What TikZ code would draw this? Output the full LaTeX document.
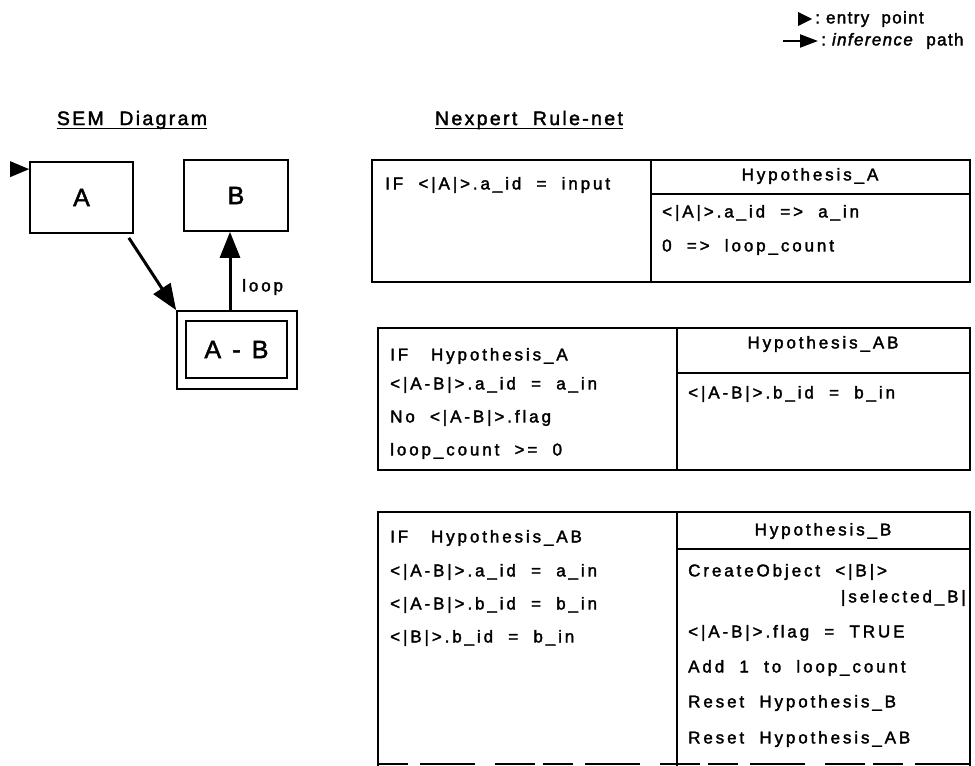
\documentclass[tikz,border=0pt]{standalone}
\usepackage{fontspec}
\setmainfont{Liberation Sans}[LetterSpace=17, FakeBold=2]
\usetikzlibrary{arrows.meta}
\begin{document}
\begin{tikzpicture}[x=1pt,y=-1pt,
  box/.style={draw, line width=1.7pt, inner sep=0pt},
  rule/.style={line width=1.5pt},
  txt/.style={anchor=west, inner sep=0pt, font=\fontsize{17}{19}\selectfont},
  ctr/.style={inner sep=0pt, font=\fontsize{17}{19}\selectfont},
  rtx/.style={anchor=east, inner sep=0pt, font=\fontsize{17}{19}\selectfont},
  lgd/.style={anchor=west, inner sep=0pt, font=\fontsize{17}{19}\selectfont\addfontfeatures{LetterSpace=8}},
  ttl/.style={inner sep=0pt, font=\fontsize{19.5}{21}\selectfont\addfontfeatures{LetterSpace=12}},
  big/.style={font=\fontsize{25}{27}\selectfont},
  infer/.style={line width=3pt, -{Triangle[length=26pt,width=20pt]}},
]
\useasboundingbox (0,0) rectangle (975,766);

% legend
\fill (812,19) -- (798,12) -- (798,26) -- cycle;
\node[lgd] (lg1) at (815,19) {:\ entry\ \ point};
\coordinate (l2a) at (783,41);
\coordinate (l2b) at (818,41);
\draw[line width=2.2pt, -{Triangle[length=18pt,width=13pt]}] (l2a) -- (l2b);
\node[lgd] (lg2) at (821,41) {:\ \textit{inference}\ \ path};

% titles
\node[ttl] (sem) at (132,120) {SEM\ \ Diagram};
\draw[line width=1.5pt] ([yshift=1pt]sem.south west) -- ([yshift=1pt]sem.south east);
\node[ttl] (nex) at (529,120) {Nexpert\ \ Rule-net};
\draw[line width=1.5pt] ([yshift=1pt]nex.south west) -- ([yshift=1pt]nex.south east);

% SEM diagram
\node[box, minimum width=103pt, minimum height=71pt, big] (A) at (81.5,197.5) {A};
\node[box, minimum width=104pt, minimum height=71pt, big] (B) at (236,195.5) {B};
\node[box, minimum width=120pt, minimum height=78pt] (ABo) at (237,350) {};
\node[box, minimum width=101pt, minimum height=57pt, big] (AB) at (236.5,349.5) {A - B};
\fill (A.north west) ++(0,-8pt) -- ++(-19pt,8pt) -- ++(0,-16pt) -- cycle;
\draw[infer] ([xshift=-5pt,yshift=-4pt]A.south east) -- (ABo.north west);
\draw[infer] ([xshift=-7pt]ABo.north) -- ([xshift=-6pt]B.south);
\node[txt] (loop) at (242,287) {loop};

% table 1
\node[box, minimum width=598pt, minimum height=122pt] (t1) at (671,221) {};
\draw[rule] (651,160) -- (651,282);
\draw[rule] (651,194) -- (970,194);
\node[txt] (t1a) at (385,185) {IF\ \ <|A|>.a\_id\ \ =\ \ input};
\node[ctr] (t1h) at (810,176) {Hypothesis\_A};
\node[txt] (t1b) at (662,213) {<|A|>.a\_id\ \ =>\ \ a\_in};
\node[txt] (t1c) at (662,247) {0\ \ =>\ \ loop\_count};

% table 2
\node[box, minimum width=592pt, minimum height=142pt] (t2) at (674,399) {};
\draw[rule] (677,328) -- (677,470);
\draw[rule] (677,373) -- (970,373);
\node[ctr] (t2h) at (823,344) {Hypothesis\_AB};
\node[txt] (t2a) at (390,356) {IF\ \ \ Hypothesis\_A};
\node[txt] (t2b) at (390,385) {<|A-B|>.a\_id\ \ =\ \ a\_in};
\node[txt] (t2c) at (390,418) {No\ \ <|A-B|>.flag};
\node[txt] (t2d) at (390,451) {loop\_count\ \ >=\ \ 0};
\node[txt] (t2e) at (688,394) {<|A-B|>.b\_id\ \ =\ \ b\_in};

% table 3
\draw[rule] (378,766) -- (378,512) -- (970,512) -- (970,766);
\draw[rule] (677,512) -- (677,766);
\draw[rule] (677,549) -- (970,549);
\draw[rule, dash pattern=on 30pt off 12pt on 55pt off 20pt on 40pt off 8pt] (378,764) -- (970,764);
\node[ctr] (t3h) at (823,531) {Hypothesis\_B};
\node[txt] (t3a) at (390,538) {IF\ \ \ Hypothesis\_AB};
\node[txt] (t3b) at (390,572) {<|A-B|>.a\_id\ \ =\ \ a\_in};
\node[txt] (t3c) at (390,605) {<|A-B|>.b\_id\ \ =\ \ b\_in};
\node[txt] (t3d) at (390,638) {<|B|>.b\_id\ \ =\ \ b\_in};
\node[txt] (t3e) at (688,572) {CreateObject\ \ <|B|>};
\node[rtx] (t3f) at (966,598) {|selected\_B|};
\node[txt] (t3g) at (688,633) {<|A-B|>.flag\ \ =\ \ TRUE};
\node[txt] (t3h2) at (688,668) {Add\ \ 1\ \ to\ \ loop\_count};
\node[txt] (t3i) at (688,703) {Reset\ \ Hypothesis\_B};
\node[txt] (t3j) at (688,739) {Reset\ \ Hypothesis\_AB};
\end{tikzpicture}
\end{document}
